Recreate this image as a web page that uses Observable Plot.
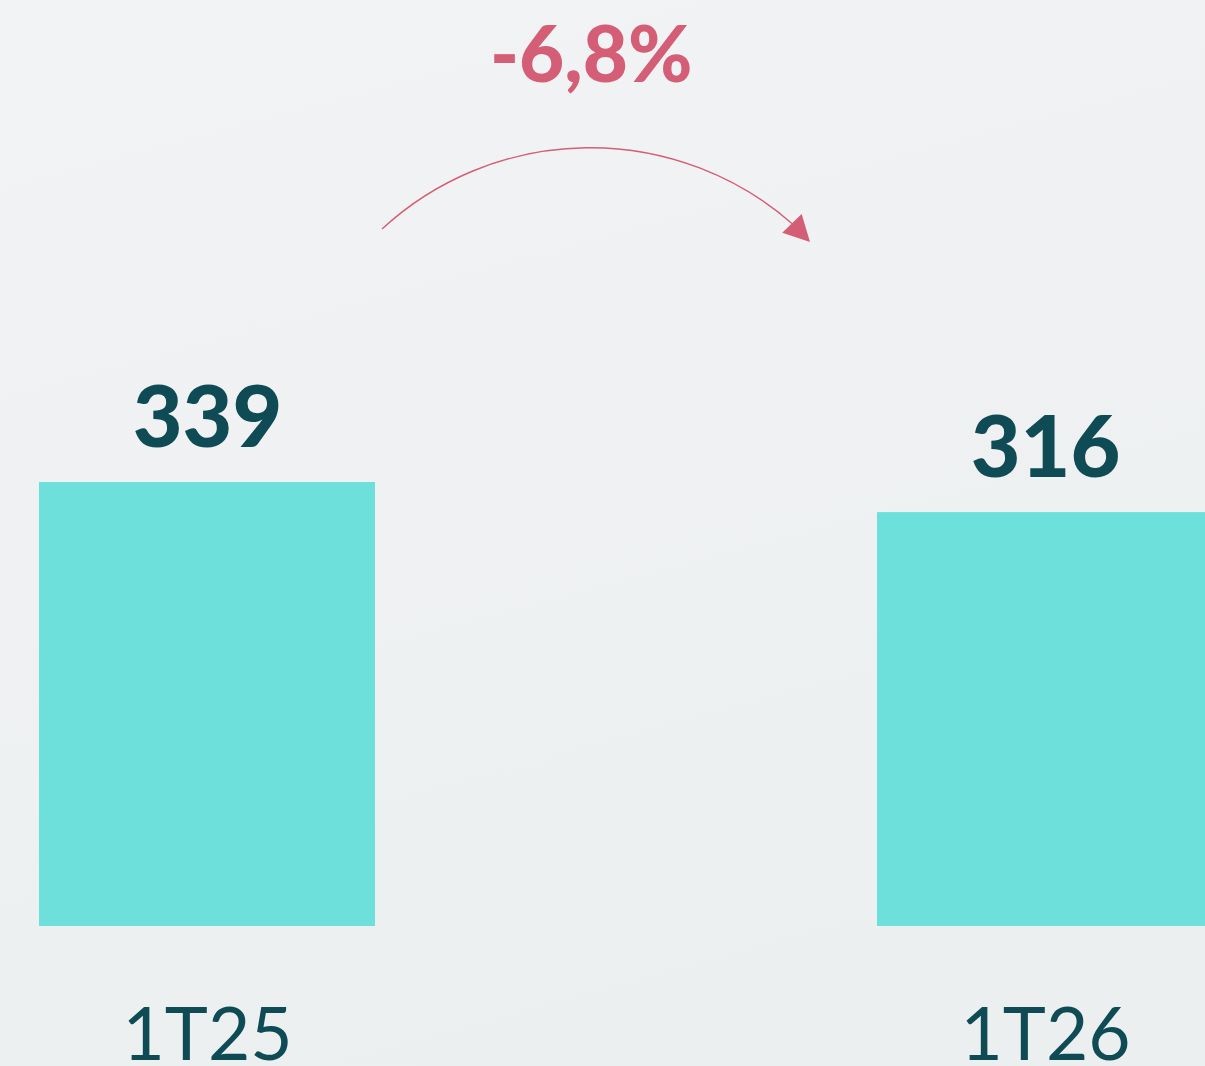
<!DOCTYPE html>
<html><head><meta charset="utf-8">
<script src="https://cdn.jsdelivr.net/npm/d3@7"></script>
<script src="https://cdn.jsdelivr.net/npm/@observablehq/plot@0.6"></script>
<style>
html,body{margin:0;padding:0;width:1205px;height:1066px;overflow:hidden;
  background:linear-gradient(165deg,#f2f3f4 0%,#eff1f2 40%,#ebeff0 100%);}
#chart svg{display:block}
</style></head><body><div id="chart"></div>
<script>
const categories = ["1T25", "1T26"];
const values = [339, 316];
const changeLabel = "-6,8%";

const data = categories.map((c, i) => ({period: c, value: values[i]}));

const TEAL_DARK = "#0f4b55", BAR = "#6ee0db", PINK = "#d45e75";

function changeArrow(index, scales) {
  const x = scales.x, y = scales.y;
  const bw = typeof x.bandwidth === "function" ? x.bandwidth() : scales.scales.x.bandwidth;
  const sx = x(categories[0]) + bw + 7, sy = y(values[0]) - 253;
  const tx = x(categories[1]) - 67, ty = y(values[1]) - 270;
  const R = 307;
  const mx = (sx + tx) / 2, my = (sy + ty) / 2;
  const d = Math.hypot(tx - sx, ty - sy);
  const ux = (tx - sx) / d, uy = (ty - sy) / d;
  const h = Math.sqrt(R * R - (d / 2) * (d / 2));
  const cx = mx - uy * h, cy = my + ux * h;
  const rx = tx - cx, ry = ty - cy;
  const tgx = -ry / R, tgy = rx / R;
  const L = 26, W = 13.5;
  const bx = tx - L * tgx, by = ty - L * tgy;
  const g = d3.create("svg:g");
  g.append("path")
    .attr("d", `M${sx},${sy}A${R},${R} 0 0 1 ${bx},${by}`)
    .attr("fill", "none").attr("stroke", PINK).attr("stroke-width", 1.4);
  g.append("path")
    .attr("d", `M${tx},${ty}L${bx - W * tgy},${by + W * tgx}L${bx + W * tgy},${by - W * tgx}Z`)
    .attr("fill", PINK);
  g.append("text")
    .attr("x", cx + 2).attr("y", cy - R - 66)
    .attr("text-anchor", "middle")
    .attr("font-family", "Lato").attr("font-weight", 900).attr("font-size", 78)
    .attr("fill", PINK)
    .text(changeLabel);
  return g.node();
}

const chart = Plot.plot({
  width: 1205,
  height: 1066,
  margin: 0,
  style: {background: "transparent", fontFamily: "Lato"},
  x: {domain: categories, range: [38, 1213], paddingInner: 0.5995, paddingOuter: 0, axis: null},
  y: {domain: [0, d3.max(values)], range: [926, 482], axis: null},
  marks: [
    Plot.barY(data, {x: "period", y: "value", fill: BAR}),
    Plot.text(data, {x: "period", y: "value", text: d => String(d.value), dy: -36, lineAnchor: "bottom",
      fontSize: 86, fontWeight: 900, fill: TEAL_DARK, fontFamily: "Lato"}),
    Plot.text(data, {x: "period", y: 0, text: "period", dy: 133, lineAnchor: "bottom",
      fontSize: 73, fill: TEAL_DARK, fontFamily: "Lato"}),
    changeArrow
  ]
});
document.getElementById("chart").appendChild(chart);
</script>
</body></html>
